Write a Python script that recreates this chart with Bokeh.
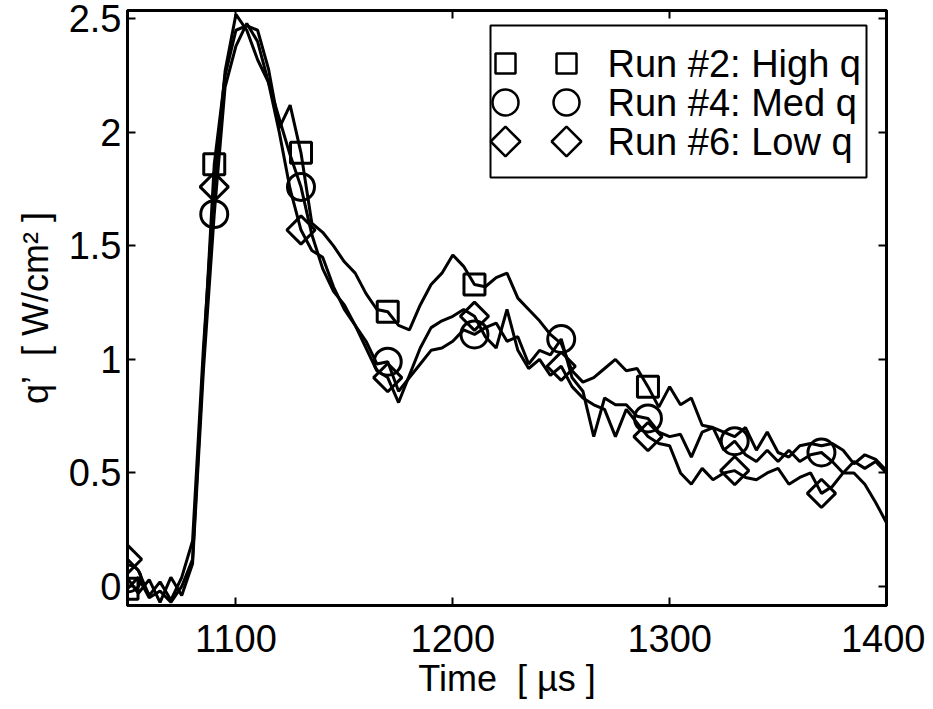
from bokeh.plotting import figure
from bokeh.models import Range1d, LinearAxis, FixedTicker
from bokeh.core.properties import value
from bokeh.embed import file_html
from bokeh.resources import INLINE
import math

# ---- data ----
time_us = list(range(1050, 1405, 5))

high_q = [-0.01, 0.04, -0.05, -0.02, -0.07, 0.00, 0.12, 1.00, 1.86, 2.25,
          2.45, 2.47, 2.45, 2.28, 2.02, 2.12, 1.91, 1.60, 1.56, 1.50,
          1.43, 1.38, 1.29, 1.22, 1.21, 1.15, 1.13, 1.24, 1.33, 1.38,
          1.46, 1.41, 1.33, 1.32, 1.36, 1.38, 1.27, 1.22, 1.17, 1.11,
          1.07, 0.95, 0.90, 0.92, 0.96, 1.00, 0.95, 0.96, 0.88, 0.79,
          0.88, 0.80, 0.83, 0.71, 0.70, 0.68, 0.66, 0.70, 0.60, 0.68,
          0.59, 0.57, 0.62, 0.63, 0.62, 0.63, 0.60, 0.54, 0.58, 0.56,
          0.51]

med_q = [0.035, -0.03, 0.03, -0.07, 0.04, -0.04, 0.10, 0.95, 1.64, 2.20,
         2.38, 2.48, 2.40, 2.22, 2.06, 1.90, 1.76, 1.55, 1.40, 1.30,
         1.24, 1.15, 1.08, 0.98, 0.99, 0.86, 0.92, 0.98, 1.04, 1.05,
         1.08, 1.13, 1.11, 1.14, 1.16, 1.08, 1.10, 0.98, 1.04, 1.02,
         1.09, 0.92, 0.86, 0.66, 0.83, 0.80, 0.80, 0.75, 0.74, 0.68,
         0.66, 0.67, 0.57, 0.68, 0.70, 0.60, 0.64, 0.58, 0.55, 0.60,
         0.55, 0.60, 0.55, 0.58, 0.59, 0.55, 0.50, 0.55, 0.52, 0.55,
         0.50]

low_q = [0.12, 0.07, -0.04, 0.02, -0.06, 0.04, 0.20, 1.05, 1.76, 2.27,
         2.52, 2.45, 2.32, 2.22, 2.00, 1.75, 1.57, 1.48, 1.45, 1.32,
         1.22, 1.15, 1.05, 0.95, 0.92, 0.81, 0.93, 1.05, 1.14, 1.17,
         1.19, 1.22, 1.19, 1.10, 1.05, 1.22, 1.04, 0.96, 1.00, 0.93,
         0.97, 0.88, 0.83, 0.80, 0.78, 0.66, 0.78, 0.72, 0.66, 0.63,
         0.62, 0.50, 0.45, 0.52, 0.47, 0.50, 0.51, 0.48, 0.47, 0.50,
         0.52, 0.45, 0.48, 0.50, 0.41, 0.44, 0.50, 0.50, 0.45, 0.37,
         0.28]

square_times = [1050, 1090, 1130, 1170, 1210, 1290]
circle_times = [1050, 1090, 1130, 1170, 1210, 1250, 1290, 1330, 1370]
diamond_times = [1050, 1090, 1130, 1170, 1210, 1250, 1290, 1330, 1370]

legend_labels = ["Run #2: High q", "Run #4: Med q", "Run #6: Low q"]
x_ticks = [1100, 1200, 1300, 1400]
y_ticks = [0, 0.5, 1, 1.5, 2, 2.5]
y_tick_labels = ["0", "0.5", "1", "1.5", "2", "2.5"]

FONT = "Liberation Sans"
NB = "\u00a0"

def pick(series, times):
    return [series[time_us.index(t)] for t in times]

p = figure(width=925, height=701, output_backend="svg", toolbar_location=None,
           x_range=Range1d(1050, 1400), y_range=Range1d(-0.084, 2.537),
           min_border_left=127, min_border_right=39, min_border_top=10,
           min_border_bottom=96)
p.grid.visible = False
p.outline_line_color = "black"
p.outline_line_width = 3
p.background_fill_color = "white"
p.border_fill_color = "white"

# main axes
p.xaxis.ticker = FixedTicker(ticks=x_ticks)
p.yaxis.ticker = FixedTicker(ticks=y_ticks)
p.yaxis.major_label_overrides = {t: s for t, s in zip(y_ticks, y_tick_labels)}
for ax in (p.xaxis[0], p.yaxis[0]):
    ax.axis_line_width = 3
    ax.major_tick_in = 8
    ax.major_tick_out = 0
    ax.major_tick_line_width = 2
    ax.minor_tick_line_color = None
    ax.major_label_text_font = FONT
    ax.major_label_text_font_size = "38px"
    ax.major_label_text_color = "black"
    ax.axis_label_text_font = FONT
    ax.axis_label_text_font_size = "36px"
    ax.axis_label_text_font_style = "normal"
    ax.axis_label_text_color = "black"
p.xaxis.axis_label = "Time" + NB + NB + "[" + NB + "µs" + NB + "]"
p.yaxis.axis_label = "q’" + NB + NB + "[" + NB + "W/cm²" + NB + "]"
p.xaxis.major_label_standoff = 19
p.xaxis.axis_label_standoff = 3
p.yaxis.major_label_standoff = 6
p.yaxis.axis_label_standoff = 10

# box axes (ticks only)
for loc, ticks in (("right", y_ticks), ("above", x_ticks)):
    ax = LinearAxis(ticker=FixedTicker(ticks=ticks), major_label_text_font_size="0px",
                    major_tick_in=8, major_tick_out=0, major_tick_line_width=2,
                    minor_tick_line_color=None, axis_line_width=3,
                    major_label_standoff=0,
                    major_label_overrides={t: "" for t in ticks})
    p.add_layout(ax, loc)

LW = 3
for s in (high_q, med_q, low_q):
    p.line(time_us, s, line_color="black", line_width=LW)

p.scatter(square_times, pick(high_q, square_times), marker="square", size=21,
          fill_color=None, line_color="black", line_width=LW)
p.scatter(circle_times, pick(med_q, circle_times), marker="circle", size=27,
          fill_color=None, line_color="black", line_width=LW)
p.scatter(diamond_times, pick(low_q, diamond_times), marker="square", size=20,
          angle=math.pi / 4, fill_color=None, line_color="black", line_width=LW)

# legend in frame-pixel coordinates
p.extra_x_ranges = {"px": Range1d(0, 759)}
p.extra_y_ranges = {"px": Range1d(595, 0)}
kw = dict(x_range_name="px", y_range_name="px")
p.quad(left=[363], right=[739], top=[15], bottom=[167], fill_color="white",
       line_color="black", line_width=2, **kw)
rows = [53, 92, 131]
for xm in (378, 439):
    p.scatter([xm], [rows[0]], marker="square", size=20, fill_color=None,
              line_color="black", line_width=2.5, **kw)
    p.scatter([xm], [rows[1]], marker="circle", size=26, fill_color=None,
              line_color="black", line_width=2.5, **kw)
    p.scatter([xm], [rows[2]], marker="square", size=21, angle=math.pi / 4,
              fill_color=None, line_color="black", line_width=2.5, **kw)
p.text(x=[480] * 3, y=rows, text=legend_labels, text_font=value(FONT),
       text_font_size="38px", text_baseline="middle", text_align="left",
       text_color="black", **kw)

open("out.html", "w").write(file_html(p, INLINE))
